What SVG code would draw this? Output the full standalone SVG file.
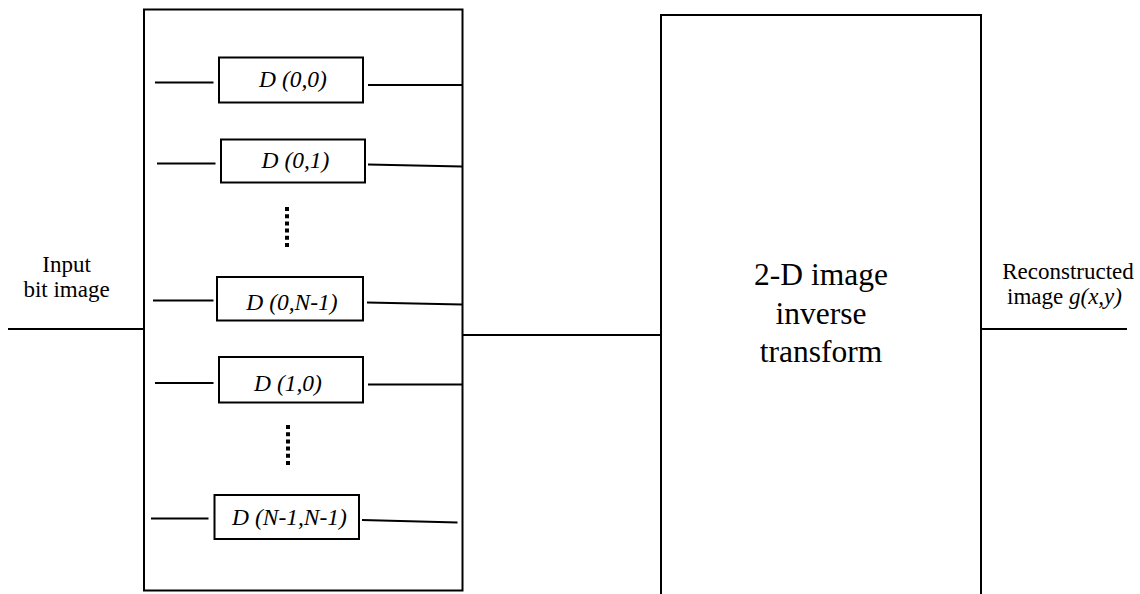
<svg xmlns="http://www.w3.org/2000/svg" width="1140" height="594" viewBox="0 0 1140 594">
  <style>
    .box { fill: #fff; stroke: #000; stroke-width: 2; }
    .wire { fill: none; stroke: #000; stroke-width: 2; }
    .dots { fill: none; stroke: #000; stroke-width: 4; stroke-dasharray: 4 3.2; }
    .lbl { font-family: "Liberation Serif", "Times New Roman", serif; fill: #000; text-anchor: middle; }
    .side { font-size: 23px; }
    .cell { font-size: 23.5px; font-style: italic; }
    .big { font-size: 31.5px; }
  </style>

  <!-- bank of decoders -->
  <g id="decoder-bank">
    <rect class="box" x="144" y="9.5" width="318.5" height="581"/>
  </g>

  <!-- 2-D inverse transform block, running off the bottom edge -->
  <g id="inverse-transform">
    <path class="wire" d="M661,600 V15 H981 V600"/>
    <text class="lbl big" x="821" y="285">2-D image</text>
    <text class="lbl big" x="821" y="323.5">inverse</text>
    <text class="lbl big" x="821" y="362">transform</text>
  </g>

  <g id="d-0-0">
    <rect class="box" x="219" y="57.5" width="144" height="45"/>
    <text class="lbl cell" x="293" y="87">D (0,0)</text>
  </g>
  <g id="d-0-1">
    <rect class="box" x="221" y="139.5" width="144" height="43"/>
    <text class="lbl cell" x="295.5" y="168">D (0,1)</text>
  </g>
  <g id="d-0-n1">
    <rect class="box" x="217" y="277" width="146" height="43.5"/>
    <text class="lbl cell" x="292" y="309.5">D (0,N-1)</text>
  </g>
  <g id="d-1-0">
    <rect class="box" x="219" y="357" width="144" height="45.5"/>
    <text class="lbl cell" x="288" y="391">D (1,0)</text>
  </g>
  <g id="d-n1-n1">
    <rect class="box" x="214.5" y="495" width="144.5" height="44"/>
    <text class="lbl cell" x="289.5" y="525">D (N-1,N-1)</text>
  </g>

  <!-- ellipses between rows -->
  <g id="ellipsis-1">
    <line class="dots" x1="287" y1="207" x2="287" y2="248.5"/>
  </g>
  <g id="ellipsis-2">
    <line class="dots" x1="288" y1="425" x2="288" y2="467"/>
  </g>

  <g id="input-label">
    <text class="lbl side" x="66.5" y="272">Input</text>
    <text class="lbl side" x="66.5" y="297">bit image</text>
  </g>
  <g id="output-label">
    <text class="lbl side" x="1068" y="278.5">Reconstructed</text>
    <text class="lbl side" x="1064.5" y="303.5">image <tspan font-style="italic">g(x,y)</tspan></text>
  </g>

  <g id="connectors">
    <line class="wire" x1="8" y1="329" x2="145" y2="329"/>
    <line class="wire" x1="463" y1="335" x2="661" y2="335"/>
    <line class="wire" x1="982" y1="329" x2="1127" y2="329"/>

    <line class="wire" x1="155" y1="82.5" x2="213.5" y2="82.5"/>
    <line class="wire" x1="368" y1="85" x2="462" y2="85"/>

    <line class="wire" x1="157" y1="163.5" x2="215.5" y2="163.5"/>
    <line class="wire" x1="368" y1="164.5" x2="462" y2="166.5"/>

    <line class="wire" x1="153" y1="300.5" x2="213.5" y2="300.5"/>
    <line class="wire" x1="367" y1="302.5" x2="462" y2="304.5"/>

    <line class="wire" x1="155" y1="383" x2="213.5" y2="383"/>
    <line class="wire" x1="368" y1="384.5" x2="462" y2="384.5"/>

    <line class="wire" x1="151" y1="518.5" x2="208.5" y2="518.5"/>
    <line class="wire" x1="362" y1="520" x2="457.5" y2="522.5"/>
  </g>
</svg>
